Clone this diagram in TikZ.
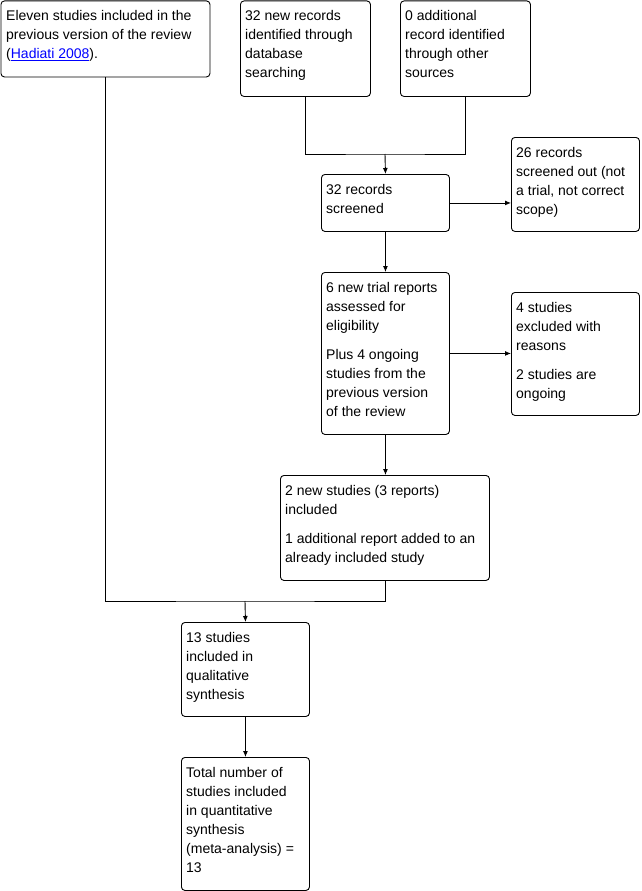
\documentclass[tikz,border=0pt]{standalone}
\usepackage{fontspec}
\setmainfont{Liberation Sans}
\usetikzlibrary{arrows.meta}
\tikzset{
  box/.style={draw, line width=0.9pt, rounded corners=3.5pt, inner sep=0pt, anchor=north west},
  txt/.style={inner sep=0pt, anchor=north west, align=left, font=\fontsize{14}{19}\selectfont},
  link/.style={line width=0.9pt},
  arr/.style={line width=0.9pt, -{Latex[length=6pt,width=5pt]}}
}
\newcommand{\lnk}[1]{\textcolor{blue}{\underline{#1}}}
\begin{document}
\begin{tikzpicture}[x=1pt,y=-1pt]
\useasboundingbox (0,0) rectangle (642,891);
% boxes
\node[box, minimum width=209pt, minimum height=76pt] (b1) at (0.5,0.5) {};
\node[box, minimum width=130pt, minimum height=95.5pt] (b2) at (240,0.5) {};
\node[box, minimum width=130pt, minimum height=95.5pt] (b3) at (400,0.5) {};
\node[box, minimum width=128pt, minimum height=57pt] (b4) at (321,174) {};
\node[box, minimum width=128pt, minimum height=94pt] (b5) at (511,137) {};
\node[box, minimum width=128pt, minimum height=162pt] (b6) at (321,272) {};
\node[box, minimum width=128pt, minimum height=123pt] (b7) at (511,292) {};
\node[box, minimum width=209pt, minimum height=105pt] (b8) at (280,475) {};
\node[box, minimum width=128pt, minimum height=94pt] (b9) at (181,622) {};
\node[box, minimum width=128pt, minimum height=133pt] (b10) at (181,757) {};
% texts
\node[txt] (t1) at (6,6.7) {\strut Eleven studies included in the\\\strut previous version of the review\\\strut (\lnk{Hadiati 2008}).};
\node[txt] (t2) at (245,6.7) {\strut 32 new records\\\strut identified through\\\strut database\\\strut searching};
\node[txt] (t3) at (405,6.7) {\strut 0 additional\\\strut record identified\\\strut through other\\\strut sources};
\node[txt] (t4) at (326,180.7) {\strut 32 records\\\strut screened};
\node[txt] (t5) at (516,143.7) {\strut 26 records\\\strut screened out (not\\\strut a trial, not correct\\\strut scope)};
\node[txt] (t6) at (326,278.7) {\strut 6 new trial reports\\\strut assessed for\\\strut eligibility\\[10pt]\strut Plus 4 ongoing\\\strut studies from the\\\strut previous version\\\strut of the review};
\node[txt] (t7) at (516,298.7) {\strut 4 studies\\\strut excluded with\\\strut reasons\\[10pt]\strut 2 studies are\\\strut ongoing};
\node[txt] (t8) at (285,481.7) {\strut 2 new studies (3 reports)\\\strut included\\[10pt]\strut 1 additional report added to an\\\strut already included study};
\node[txt] (t9) at (186,628.7) {\strut 13 studies\\\strut included in\\\strut qualitative\\\strut synthesis};
\node[txt] (t10) at (186,763.7) {\strut Total number of\\\strut studies included\\\strut in quantitative\\\strut synthesis\\\strut (meta-analysis) =\\\strut 13};
% junctions
\coordinate (j1) at (385,154);
\coordinate (j2) at (245,601);
% connectors
\draw[link] (b2.south) |- (j1) -| (b3.south);
\draw[arr] (j1) -- (b4.north);
\draw[arr] (b4.east) -- (b4.east -| b5.west);
\draw[arr] (b4.south) -- (b6.north);
\draw[arr] (b6.east) -- (b6.east -| b7.west);
\draw[arr] (b6.south) -- (b6.south |- b8.north);
\draw[link] (b1.south) |- (j2) -| (b8.south);
\draw[arr] (j2) -- (b9.north);
\draw[arr] (b9.south) -- (b10.north);
\end{tikzpicture}
\end{document}
